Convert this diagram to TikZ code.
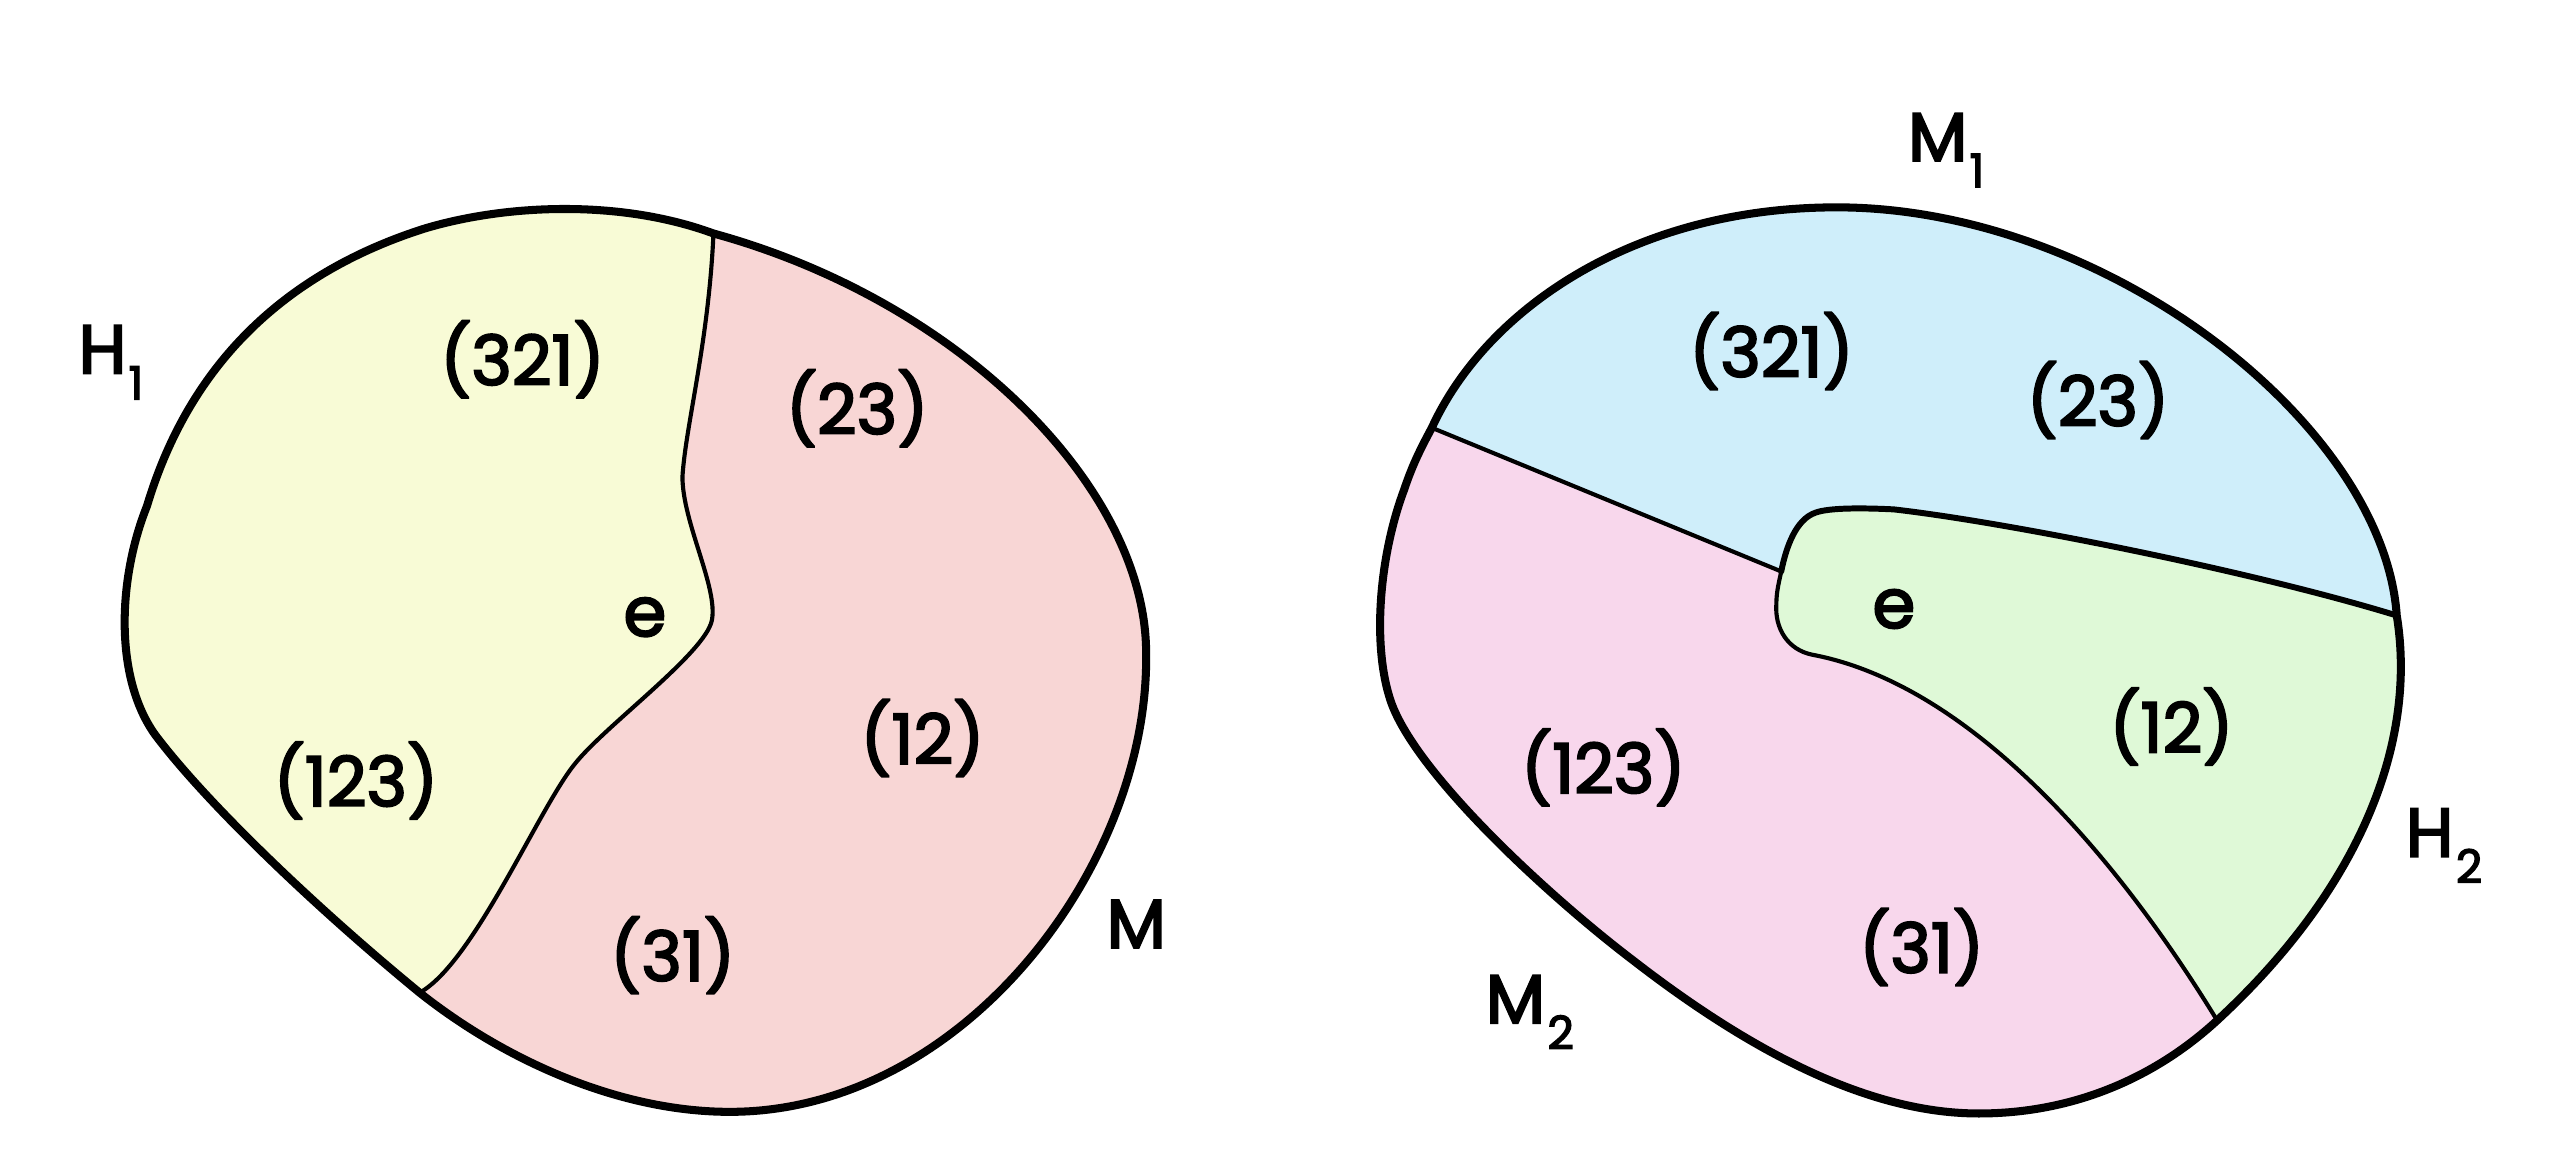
\documentclass[tikz,border=0pt]{standalone}
\usepackage{fontspec}
\setmainfont{Poppins}[FakeBold=3]
\definecolor{lyel}{HTML}{F8FBD6}
\definecolor{lpink}{HTML}{F8D6D5}
\definecolor{rblue}{HTML}{CFEEFA}
\definecolor{rgreen}{HTML}{DFF9D7}
\definecolor{rpink}{HTML}{F8D7EC}
\newcommand{\subl}[1]{\kern1pt\raisebox{-0.38em}{\fontsize{20}{20}\selectfont #1}}
\begin{document}
\begin{tikzpicture}[x=0.25mm,y=-0.25mm,
  outline/.style={line width=3.5pt,line join=round,line cap=round},
  divider/.style={line width=1.8pt,line join=round,line cap=round},
  edgethick/.style={line width=2.6pt,line join=round,line cap=round},
  lbl/.style={font=\fontsize{30}{30}\selectfont,inner sep=0pt}]
\useasboundingbox (0,0) rectangle (1568,704);
\fill[white] (0,0) rectangle (1568,704);
% ---------- left blob ----------
\coordinate (A) at (437,143);
\coordinate (B) at (257,608);
\begin{scope}
\clip (437,143) .. controls (590,185) and (702,300) .. (702,400) .. controls (704,530) and (590,681) .. (447,681) .. controls (380,681) and (310,650) .. (257,608) .. controls (190,553) and (125,490) .. (95,450) .. controls (70,415) and (72,355) .. (90,310) .. controls (108,250) and (150,175) .. (260,140) .. controls (310,125) and (380,122) .. (437,143) -- cycle;
\fill[lpink] (0,0) rectangle (800,704);
\fill[lyel] (437,0) -- (437,143) .. controls (434,210) and (420,260) .. (418,292) .. controls (418,320) and (440,360) .. (436,380) .. controls (432,400) and (370,445) .. (352,468) .. controls (330,495) and (290,590) .. (257,608) -- (257,704) -- (0,704) -- (0,0) -- cycle;
\end{scope}
\draw[divider] (A) .. controls (434,210) and (420,260) .. (418,292) .. controls (418,320) and (440,360) .. (436,380) .. controls (432,400) and (370,445) .. (352,468) .. controls (330,495) and (290,590) .. (B);
\draw[outline] (A) .. controls (590,185) and (702,300) .. (702,400) .. controls (704,530) and (590,681) .. (447,681) .. controls (380,681) and (310,650) .. (B) .. controls (190,553) and (125,490) .. (95,450) .. controls (70,415) and (72,355) .. (90,310) .. controls (108,250) and (150,175) .. (260,140) .. controls (310,125) and (380,122) .. (A) -- cycle;
\node[lbl] (l321) at (320,220) {(321)};
\node[lbl] (l23) at (525,250) {(23)};
\node[lbl] (le) at (395,378) {e};
\node[lbl] (l123) at (218,478) {(123)};
\node[lbl] (l12) at (565,452) {(12)};
\node[lbl] (l31) at (412,585) {(31)};
\node[lbl] (lM) at (696,566) {M};
\node[lbl] (lH) at (68,222) {H\subl{1}};
% ---------- right blob ----------
\coordinate (L) at (877,262);
\coordinate (N) at (1091,350);
\coordinate (R) at (1468,377);
\coordinate (Bt) at (1358,625);
\begin{scope}
\clip (1125,127) .. controls (1290,127) and (1460,260) .. (1468,377) .. controls (1480,450) and (1450,540) .. (1358,625) .. controls (1320,660) and (1270,682) .. (1212,682) .. controls (1150,682) and (1080,650) .. (1000,588) .. controls (950,550) and (868,475) .. (852,430) .. controls (840,395) and (845,340) .. (860,300) .. controls (865,285) and (870,275) .. (877,262) .. controls (910,190) and (1000,127) .. (1125,127) -- cycle;
\fill[rpink] (800,0) rectangle (1568,704);
\fill[rblue] (800,262) -- (877,262) -- (1091,350) .. controls (1094,335) and (1100,318) .. (1112,314) .. controls (1120,311) and (1140,311) .. (1160,312) .. controls (1230,320) and (1380,350) .. (1468,377) -- (1568,377) -- (1568,0) -- (800,0) -- cycle;
\fill[rgreen] (1091,350) .. controls (1094,335) and (1100,318) .. (1112,314) .. controls (1120,311) and (1140,311) .. (1160,312) .. controls (1230,320) and (1380,350) .. (1468,377) -- (1568,377) -- (1568,704) -- (1358,704) -- (1358,625) .. controls (1300,530) and (1210,420) .. (1110,401) .. controls (1095,398) and (1087,385) .. (1088,370) .. controls (1088,362) and (1090,355) .. (1091,350) -- cycle;
\end{scope}
\draw[divider] (L) -- (N);
\draw[edgethick] (N) .. controls (1094,335) and (1100,318) .. (1112,314) .. controls (1120,311) and (1140,311) .. (1160,312) .. controls (1230,320) and (1380,350) .. (R);
\draw[divider] (Bt) .. controls (1300,530) and (1210,420) .. (1110,401) .. controls (1095,398) and (1087,385) .. (1088,370) .. controls (1088,362) and (1090,355) .. (N);
\draw[outline] (1125,127) .. controls (1290,127) and (1460,260) .. (R) .. controls (1480,450) and (1450,540) .. (Bt) .. controls (1320,660) and (1270,682) .. (1212,682) .. controls (1150,682) and (1080,650) .. (1000,588) .. controls (950,550) and (868,475) .. (852,430) .. controls (840,395) and (845,340) .. (860,300) .. controls (865,285) and (870,275) .. (L) .. controls (910,190) and (1000,127) .. (1125,127) -- cycle;
\node[lbl] (r321) at (1085,215) {(321)};
\node[lbl] (r23) at (1285,245) {(23)};
\node[lbl] (re) at (1160,373) {e};
\node[lbl] (r12) at (1330,445) {(12)};
\node[lbl] (r123) at (982,470) {(123)};
\node[lbl] (r31) at (1177,580) {(31)};
\node[lbl] (rM1) at (1192,92) {M\subl{1}};
\node[lbl] (rH2) at (1497,518) {H\subl{2}};
\node[lbl] (rM2) at (937,620) {M\subl{2}};
\end{tikzpicture}
\end{document}
